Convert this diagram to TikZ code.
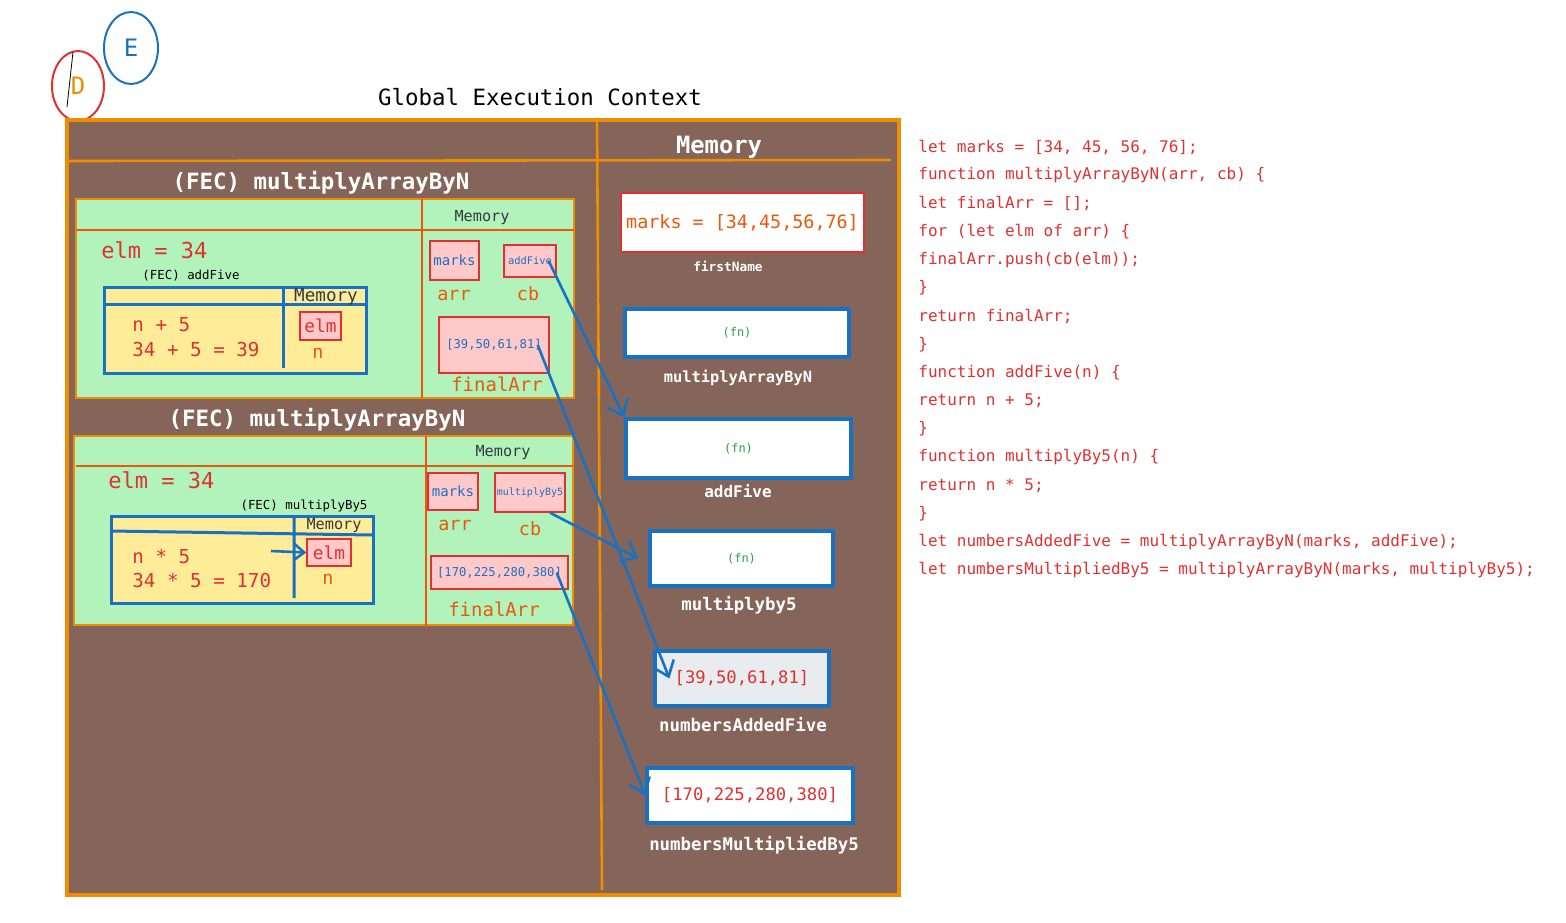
\documentclass[tikz,border=0pt]{standalone}
\usepackage{fontspec}
\setmainfont{DejaVu Sans}
\setmonofont{DejaVu Sans Mono}
\usepackage{tikz}
\usetikzlibrary{arrows.meta, shapes.geometric, positioning}

\definecolor{exbrown}{RGB}{133,100,89}
\definecolor{exorange}{HTML}{F08C00}
\definecolor{exdeep}{HTML}{E8590C}
\definecolor{exgreen}{HTML}{B2F2BB}
\definecolor{exyellow}{HTML}{FFEC99}
\definecolor{expink}{HTML}{FFC9C9}
\definecolor{exred}{HTML}{E03131}
\definecolor{exblue}{HTML}{1971C2}
\definecolor{exfn}{HTML}{2F9E44}
\definecolor{exgray}{HTML}{E9ECEF}
\definecolor{exdark}{HTML}{343A40}

\newcommand{\mfont}[1]{\fontsize{#1}{#1}\selectfont\ttfamily}

\begin{document}
\begin{tikzpicture}[x=0.5pt, y=-0.5pt, inner sep=0pt]
\tikzstyle{vbox}=[draw=exred, fill=expink, line width=0.7pt]
\tikzstyle{membox}=[draw=exblue, fill=white, line width=1.6pt]
\tikzstyle{link}=[exblue, line width=1.3pt, -{Straight Barb[length=7pt, width=11pt]}]
\tikzstyle{lbl}=[white, font=\mfont{7.7}\bfseries]
\tikzstyle{memlbl}=[exdark, font=\mfont{7.6}]
\tikzstyle{calc}=[exred, anchor=west, font=\mfont{9.6}]
\tikzstyle{varname}=[exdeep, font=\mfont{9.2}]
\tikzstyle{code}=[exred, anchor=west, font=\mfont{8}]
\useasboundingbox (0,0) rectangle (1566,922);

% marks in the corner
\node[ellipse, draw=exblue, line width=1pt, minimum width=27pt, minimum height=36pt,
  text=exblue, font=\mfont{12}] (eMark) at (131,48) {E};
\node[ellipse, draw=exred, line width=1pt, minimum width=26pt, minimum height=35pt,
  text=exorange, font=\mfont{12}] (dMark) at (78,86) {D};
\draw[black, line width=0.4pt] (73,52) -- (67,107);

% global execution context
\node[black, font=\mfont{11.2}] (gecTitle) at (540,97) {Global Execution Context};
\draw[fill=exbrown, draw=exorange, line width=1.6pt] (67,120) rectangle (899,895);
\draw[exorange, line width=1.3pt] (597,120) -- (602,890);
\draw[exorange, line width=1.3pt] (67,161) -- (891,160);
\node[white, font=\mfont{11.9}\bfseries] (gecMem) at (719,147) {Memory};

% first call of multiplyArrayByN
\node[white, font=\mfont{11.2}\bfseries] (fecOne) at (321,183) {(FEC) multiplyArrayByN};
\draw[fill=exgreen, draw=exorange, line width=1pt] (76,199) rectangle (574,398);
\draw[exdeep, line width=0.8pt] (76,230) -- (574,230) (422,199) -- (422,398);
\node[memlbl] (memOne) at (482,218) {Memory};
\node[exred, anchor=west, font=\mfont{11}] (elmOne) at (101,250) {elm = 34};
\node[black, font=\mfont{6.2}] (fecAdd) at (191,276) {(FEC) addFive};
\draw[fill=exyellow, draw=exblue, line width=1.5pt] (104,287) rectangle (366,373);
\draw[exblue, line width=1.5pt] (104,304) -- (366,304) (283,287) -- (283,368);
\node[exdark, font=\mfont{8.8}] (memAdd) at (326,297) {Memory};
\node[calc] (addExpr) at (132,325) {n + 5};
\node[calc] (addRes) at (132,349) {34 + 5 = 39};
\node[vbox, minimum width=20.5pt, minimum height=14pt, text=exred, font=\mfont{8.9}] (elmA) at (320.5,326) {elm};
\node[varname] (nA) at (318,353) {n};
\node[vbox, minimum width=24.5pt, minimum height=19.5pt, text=exblue, font=\mfont{7}] (marksA) at (454.5,260.5) {marks};
\node[vbox, minimum width=26pt, minimum height=16pt, text=exblue, font=\mfont{5.2}] (cbA) at (530,261) {addFive};
\node[varname] (arrA) at (454,295) {arr};
\node[varname] (cbNameA) at (528,294) {cb};
\node[vbox, minimum width=55pt, minimum height=28pt, text=exblue, font=\mfont{6.1}] (finA) at (494,345) {[39,50,61,81]};
\node[varname, font=\mfont{9.5}] (finNameA) at (497,384) {finalArr};

% second call of multiplyArrayByN
\node[white, font=\mfont{11.2}\bfseries] (fecTwo) at (317,420) {(FEC) multiplyArrayByN};
\draw[fill=exgreen, draw=exorange, line width=1pt] (74,436) rectangle (573,625);
\draw[exdeep, line width=0.8pt] (76,466) -- (573,466) (426,436) -- (426,628);
\node[memlbl] (memTwo) at (503,453) {Memory};
\node[exred, anchor=west, font=\mfont{11}] (elmTwo) at (108,480) {elm = 34};
\node[black, font=\mfont{6.2}] (fecBy5) at (304,506) {(FEC) multiplyBy5};
\draw[fill=exyellow, draw=exblue, line width=1.5pt] (111,516) rectangle (373,603);
\draw[exblue, line width=1.5pt] (111,531) -- (373,535) (294,518) -- (294,598);
\node[memlbl] (memBy5) at (334,526) {Memory};
\node[calc] (by5Expr) at (132,556) {n * 5};
\node[calc] (by5Res) at (132,580) {34 * 5 = 170};
\node[vbox, minimum width=22pt, minimum height=13.5pt, text=exred, font=\mfont{8.9}] (elmB) at (329,552.5) {elm};
\node[varname] (nB) at (328,579) {n};
\node[vbox, minimum width=25pt, minimum height=18.5pt, text=exblue, font=\mfont{7}] (marksB) at (453,491.5) {marks};
\node[vbox, minimum width=35pt, minimum height=19.5pt, text=exblue, font=\mfont{5}] (cbB) at (530,492.5) {multiplyBy5};
\node[varname] (arrB) at (455,525) {arr};
\node[varname] (cbNameB) at (530,529) {cb};
\node[vbox, minimum width=68.5pt, minimum height=16.5pt, text=exblue, font=\mfont{6.1}] (finB) at (499.5,572.5) {[170,225,280,380]};
\node[varname, font=\mfont{9.5}] (finNameB) at (494,609) {finalArr};

% global memory
\node[draw=exred, fill=white, line width=0.9pt, minimum width=121.5pt, minimum height=29.5pt,
  text=exdeep, font=\mfont{9.2}] (marksG) at (742.5,222.5) {marks = [34,45,56,76]};
\node[lbl, font=\mfont{6.4}\bfseries] (marksLbl) at (728,266) {firstName};
\node[membox, minimum width=112pt, minimum height=24pt, text=exfn, font=\mfont{6}] (fnMulN) at (737,333) {(fn)};
\node[lbl] (fnMulNLbl) at (738,378) {multiplyArrayByN};
\node[membox, minimum width=112.5pt, minimum height=29.5pt, text=exfn, font=\mfont{6}] (fnAdd) at (738.5,448.5) {(fn)};
\node[lbl, font=\mfont{8}\bfseries] (fnAddLbl) at (738,491) {addFive};
\node[membox, minimum width=91.5pt, minimum height=27.5pt, text=exfn, font=\mfont{6}] (fnBy5) at (741.5,558.5) {(fn)};
\node[lbl, font=\mfont{8.7}\bfseries] (fnBy5Lbl) at (739,605) {multiplyby5};
\node[membox, fill=exgray, minimum width=87pt, minimum height=27.5pt, text=exred, font=\mfont{8.6}] (arrAdd) at (742,678.5) {[39,50,61,81]};
\node[lbl, font=\mfont{8.7}\bfseries] (arrAddLbl) at (743,725) {numbersAddedFive};
\node[membox, minimum width=103pt, minimum height=27.5pt, text=exred, font=\mfont{8.6}] (arrMul) at (750,795.5) {[170,225,280,380]};
\node[lbl, font=\mfont{8.7}\bfseries] (arrMulLbl) at (754,845) {numbersMultipliedBy5};

% references
\draw[link] ([xshift=-4pt]cbA.east) -- (fnAdd.north west);
\draw[link] ([xshift=-6pt]finA.east) -- ([xshift=8pt]arrAdd.west);
\draw[link] ([xshift=10pt]cbB.south) -- ([xshift=-5pt]fnBy5.west);
\draw[link] ([xshift=-6pt]finB.east) -- (arrMul.west);
\coordinate (elmSrc) at (271,551);
\draw[link, -{Straight Barb[length=5pt, width=8pt]}] (elmSrc) -- (elmB.west);

% source code
\foreach \ln [count=\i from 0] in {
  {let marks = [34, 45, 56, 76];},
  {function multiplyArrayByN(arr, cb) \{},
  {let finalArr = [];},
  {for (let elm of arr) \{},
  {finalArr.push(cb(elm));},
  {\}},
  {return finalArr;},
  {\}},
  {function addFive(n) \{},
  {return n + 5;},
  {\}},
  {function multiplyBy5(n) \{},
  {return n * 5;},
  {\}},
  {let numbersAddedFive = multiplyArrayByN(marks, addFive);},
  {let numbersMultipliedBy5 = multiplyArrayByN(marks, multiplyBy5);}}
  \node[code] (code\i) at (918,147+28.2*\i) {\ln};
\end{tikzpicture}
\end{document}
